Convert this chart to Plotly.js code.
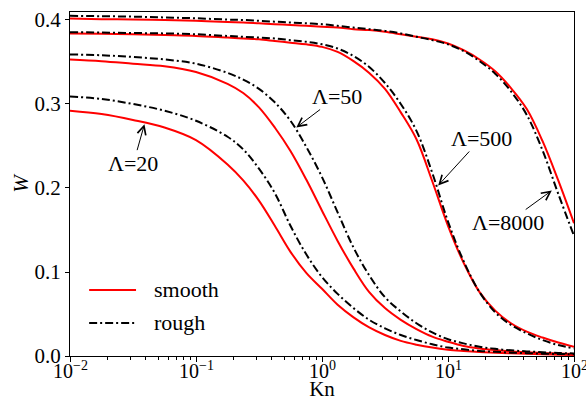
<!DOCTYPE html>
<html>
<head>
<meta charset="utf-8">
<script src="https://cdn.plot.ly/plotly-3.0.1.min.js"></script>
<style>html,body{margin:0;padding:0;background:#fff;}#chart{width:586px;height:402px;}</style>
</head>
<body>
<div id="chart"></div>
<script>
// Knudsen numbers (shared grid)
const kn = [0.01, 0.0178, 0.0316, 0.0562, 0.1, 0.178, 0.237, 0.316, 0.422, 0.562, 0.75, 1,
            1.33, 1.78, 2.37, 3.16, 4.22, 5.62, 7.5, 10, 13.3, 17.8, 23.7, 31.6, 42.2, 56.2, 75, 100];

// W values, smooth walls
const smooth20   = [0.292, 0.288, 0.281, 0.272, 0.257, 0.228, 0.209, 0.185, 0.155, 0.124, 0.099, 0.080,
                    0.061, 0.046, 0.034, 0.025, 0.018, 0.0135, 0.010, 0.0075, 0.006, 0.0048, 0.004, 0.0032, 0.0026, 0.002, 0.0016, 0.0013];
const smooth50   = [0.353, 0.351, 0.348, 0.345, 0.338, 0.324, 0.313, 0.296, 0.272, 0.244, 0.210, 0.173,
                    0.137, 0.104, 0.076, 0.057, 0.043, 0.032, 0.023, 0.017, 0.012, 0.009, 0.007, 0.0055, 0.0045, 0.0035, 0.003, 0.0025];
const smooth500  = [0.384, 0.3835, 0.383, 0.382, 0.381, 0.379, 0.378, 0.377, 0.375, 0.373, 0.371, 0.368,
                    0.362, 0.351, 0.337, 0.318, 0.290, 0.258, 0.208, 0.155, 0.111, 0.076, 0.054, 0.039, 0.029, 0.022, 0.016, 0.011];
const smooth8000 = [0.4017, 0.401, 0.4005, 0.400, 0.399, 0.3975, 0.397, 0.396, 0.395, 0.394, 0.393, 0.392,
                    0.391, 0.389, 0.388, 0.386, 0.383, 0.380, 0.377, 0.372, 0.364, 0.353, 0.339, 0.319, 0.294, 0.256, 0.209, 0.158];

// W values, rough walls
const rough20   = [0.309, 0.306, 0.300, 0.292, 0.280, 0.261, 0.246, 0.223, 0.194, 0.155, 0.121, 0.094,
                   0.074, 0.057, 0.043, 0.033, 0.025, 0.019, 0.014, 0.010, 0.008, 0.006, 0.005, 0.004, 0.0034, 0.0028, 0.0024, 0.002];
const rough50   = [0.359, 0.358, 0.356, 0.353, 0.348, 0.337, 0.329, 0.318, 0.302, 0.280, 0.249, 0.213,
                   0.171, 0.129, 0.096, 0.070, 0.053, 0.039, 0.028, 0.020, 0.015, 0.011, 0.0085, 0.0067, 0.0055, 0.0045, 0.0037, 0.003];
const rough500  = [0.3855, 0.385, 0.3845, 0.384, 0.383, 0.381, 0.380, 0.379, 0.378, 0.376, 0.374, 0.371,
                   0.366, 0.357, 0.344, 0.325, 0.300, 0.268, 0.218, 0.160, 0.113, 0.076, 0.052, 0.037, 0.027, 0.019, 0.013, 0.009];
const rough8000 = [0.405, 0.4045, 0.404, 0.403, 0.402, 0.4005, 0.400, 0.399, 0.398, 0.397, 0.396, 0.395,
                   0.393, 0.391, 0.389, 0.387, 0.384, 0.380, 0.376, 0.371, 0.363, 0.351, 0.336, 0.315, 0.287, 0.245, 0.193, 0.143];

// axis ticks
const xTickVals = [0.01, 0.1, 1, 10, 100];
const xTickText = ['10<sup>−2</sup>', '10<sup>−1</sup>', '10<sup>0</sup>', '10<sup>1</sup>', '10<sup>2</sup>'];
const yTickVals = [0.0, 0.1, 0.2, 0.3, 0.4];
const yTickText = ['0.0', '0.1', '0.2', '0.3', '0.4'];

// annotation labels: arrow tip in data coords (log10 Kn, W), label offset in px from the tip
const labels = ['Λ=20', 'Λ=50', 'Λ=500', 'Λ=8000'];
const tipX = [-1.409, -0.204, 0.922, 1.824];
const tipY = [0.276, 0.272, 0.203, 0.197];
const labelDX = [-11, 41, 43, -44];
const labelDY = [39, -31, -47, 32];

const FONT = "'Liberation Serif', 'Times New Roman', Times, serif";
const RED = '#ff0000';
const BLACK = '#000000';
const DASH = '8px,3px,2px,3px';

const smoothSets = [smooth20, smooth50, smooth500, smooth8000];
const roughSets = [rough20, rough50, rough500, rough8000];

const traces = [];
smoothSets.forEach((ys) => traces.push({
  x: kn, y: ys, type: 'scatter', mode: 'lines', name: 'smooth',
  line: {color: RED, width: 2, shape: 'spline', smoothing: 1},
  showlegend: false, hoverinfo: 'skip'
}));
roughSets.forEach((ys) => traces.push({
  x: kn, y: ys, type: 'scatter', mode: 'lines', name: 'rough',
  line: {color: BLACK, width: 2, dash: DASH, shape: 'spline', smoothing: 1},
  showlegend: false, hoverinfo: 'skip'
}));

// minor tick positions on the log axis
const minorVals = [];
for (let d = -2; d < 2; d++) {
  for (let m = 2; m <= 9; m++) minorVals.push(m * Math.pow(10, d));
}

const annotations = [];
labels.forEach((t, i) => {
  annotations.push({
    x: tipX[i], y: tipY[i], xref: 'x', yref: 'y', text: t, showarrow: true,
    ax: labelDX[i], ay: labelDY[i], arrowhead: 5, arrowsize: 1.7, arrowwidth: 1,
    arrowcolor: '#000', standoff: 0, borderpad: 0,
    font: {family: FONT, size: 22, color: '#000'}
  });
});

// x tick labels placed just under the axis (log axis: annotation x is log10 of the value)
xTickVals.forEach((v, i) => {
  annotations.push({
    x: Math.log10(v), y: 0, xref: 'x', yref: 'paper', yanchor: 'top', yshift: -1,
    text: xTickText[i], showarrow: false, borderpad: 0,
    font: {family: FONT, size: 20, color: '#000'}
  });
});

// legend (drawn in paper coordinates)
const legendNames = ['smooth', 'rough'];
const legendY = [0.192, 0.096];
const shapes = [];
legendNames.forEach((n, i) => {
  shapes.push({
    type: 'line', xref: 'paper', yref: 'paper',
    x0: 0.038, x1: 0.131, y0: legendY[i], y1: legendY[i],
    line: i === 0 ? {color: RED, width: 2} : {color: BLACK, width: 2, dash: DASH}
  });
  annotations.push({
    xref: 'paper', yref: 'paper', x: 0.163, y: legendY[i], xanchor: 'left', yanchor: 'middle',
    text: n, showarrow: false, font: {family: FONT, size: 22, color: '#000'}
  });
});

const layout = {
  width: 586, height: 402,
  margin: {l: 70, r: 12, t: 12, b: 46, pad: 0},
  paper_bgcolor: '#fff', plot_bgcolor: '#fff',
  font: {family: FONT, size: 20, color: '#000'},
  showlegend: false,
  xaxis: {
    type: 'log', range: [-2, 2],
    tickmode: 'array', tickvals: xTickVals, ticktext: xTickText, showticklabels: false,
    ticks: 'outside', ticklen: 5, tickwidth: 1, tickcolor: '#000',
    minor: {tickmode: 'array', tickvals: minorVals, ticks: 'outside', ticklen: 2.5, tickwidth: 1, tickcolor: '#000', showgrid: false},
    showline: true, linecolor: '#000', linewidth: 1, mirror: true,
    showgrid: false, zeroline: false,
    tickfont: {family: FONT, size: 20, color: '#000'},
    title: {text: 'Kn', font: {family: FONT, size: 21, color: '#000'}, standoff: 20}
  },
  yaxis: {
    range: [0, 0.4095],
    tickmode: 'array', tickvals: yTickVals, ticktext: yTickText,
    ticks: 'outside', ticklen: 4, tickwidth: 1, tickcolor: '#000',
    showline: true, linecolor: '#000', linewidth: 1, mirror: true,
    showgrid: false, zeroline: false,
    tickfont: {family: FONT, size: 21, color: '#000'},
    title: {text: '<i>W</i>', font: {family: FONT, size: 21, color: '#000'}, standoff: 0}
  },
  annotations: annotations,
  shapes: shapes
};

Plotly.newPlot('chart', traces, layout, {displayModeBar: false, staticPlot: true});
</script>
</body>
</html>
